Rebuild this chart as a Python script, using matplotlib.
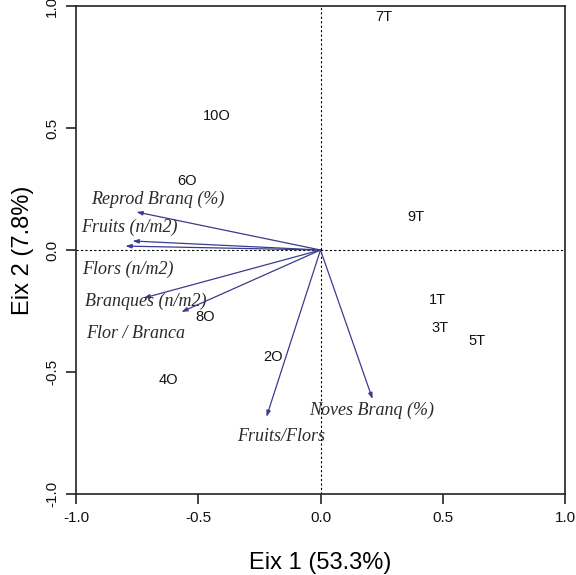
import matplotlib
matplotlib.use("Agg")
import matplotlib.pyplot as plt

# sample scores (labels)
sites = ["7T", "10O", "6O", "9T", "1T", "3T", "5T", "8O", "2O", "4O"]
site_x = [0.26, -0.425, -0.545, 0.39, 0.48, 0.49, 0.64, -0.47, -0.196, -0.622]
site_y = [0.955, 0.55, 0.283, 0.135, -0.205, -0.32, -0.373, -0.275, -0.44, -0.533]

# variable loadings (arrow tips)
variables = ["Reprod Branq (%)", "Fruits (n/m2)", "Flors (n/m2)", "Branques (n/m2)",
             "Flor / Branca", "Fruits/Flors", "Noves Branq (%)"]
var_x = [-0.753, -0.769, -0.798, -0.724, -0.569, -0.221, 0.213]
var_y = [0.156, 0.037, 0.016, -0.197, -0.254, -0.684, -0.611]
# where the variable names are written
lab_x = [-0.667, -0.781, -0.789, -0.716, -0.757, -0.16, 0.209]
lab_y = [0.209, 0.094, -0.078, -0.209, -0.344, -0.766, -0.656]

sans = "Liberation Sans"
serif = "Liberation Serif"
arrow_col = "#3b3b8f"

fig = plt.figure(figsize=(5.76, 5.75), dpi=100)
ax = fig.add_axes([76 / 576, 1 - 494 / 575, (565 - 76) / 576, (494 - 6) / 575])

ax.axhline(0, color="black", lw=0.8, ls=(0, (2, 2)))
ax.axvline(0, color="black", lw=0.8, ls=(0, (2, 2)))

for i in range(len(variables)):
    ax.annotate("", xy=(var_x[i], var_y[i]), xytext=(0, 0),
                arrowprops=dict(arrowstyle="-|>,head_length=0.35,head_width=0.12",
                                color=arrow_col, lw=0.9, shrinkA=0, shrinkB=0))
    ax.text(lab_x[i], lab_y[i], variables[i], family=serif, style="italic",
            fontsize=13, color="#2a2a2a", ha="center", va="center")

for i in range(len(sites)):
    ax.text(site_x[i], site_y[i], sites[i], family=sans, fontsize=10.5,
            color="#111111", ha="center", va="center")

ax.set_xlim(-1, 1)
ax.set_ylim(-1, 1)
ticks = [-1.0, -0.5, 0.0, 0.5, 1.0]
ax.set_xticks(ticks)
ax.set_yticks(ticks)
ax.set_xticklabels(["%.1f" % t for t in ticks], family=sans, fontsize=11)
ax.set_yticklabels(["%.1f" % t for t in ticks], family=sans, fontsize=11,
                   rotation=90, va="center")
ax.tick_params(direction="out", length=7, width=1.1, pad=5, colors="#111111")
for s in ax.spines.values():
    s.set_linewidth(1.2)
    s.set_color("#222222")

ax.set_xlabel("Eix 1 (53.3%)", family=sans, fontsize=17, labelpad=20)
ax.set_ylabel("Eix 2 (7.8%)", family=sans, fontsize=17, labelpad=8)

fig.savefig("out.png", dpi=100)
